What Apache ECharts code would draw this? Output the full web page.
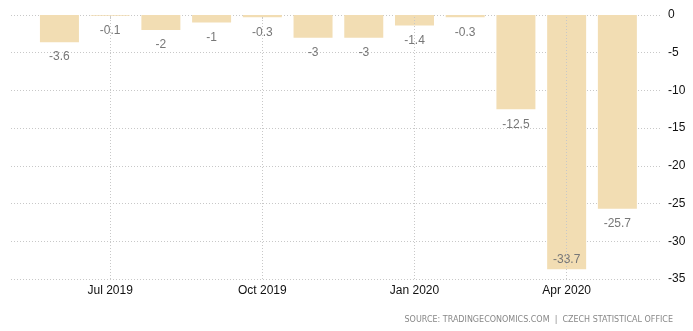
<!DOCTYPE html>
<html><head><meta charset="utf-8">
<script src="https://cdn.jsdelivr.net/npm/echarts@6/dist/echarts.min.js"></script>
<style>html,body{margin:0;padding:0;background:#fff}#c{width:693px;height:331px}</style>
</head><body><div id="c"></div>
<script>
const categories = ['Jun 2019','Jul 2019','Aug 2019','Sep 2019','Oct 2019','Nov 2019','Dec 2019','Jan 2020','Feb 2020','Mar 2020','Apr 2020','May 2020'];
const values = [-3.6, -0.1, -2, -1, -0.3, -3, -3, -1.4, -0.3, -12.5, -33.7, -25.7];
const xTickIdx = [1, 4, 7, 10];
const yTicks = [0, -5, -10, -15, -20, -25, -30, -35];
const source = 'SOURCE: TRADINGECONOMICS.COM  |  CZECH STATISTICAL OFFICE';

const chart = echarts.init(document.getElementById('c'), null, {renderer:'canvas'});
const data = values.map((v, i) => {
  const d = {value: [i, v]};
  if (v < -30) d.label = {position: 'insideBottom', distance: 4};
  return d;
});
chart.setOption({
  animation: false,
  grid: {left: 11, right: 31, top: 15, bottom: 52, containLabel: false},
  xAxis: {
    type: 'value', min: -0.955, max: 11.88,
    axisLine: {show: false},
    axisTick: {show: true, customValues: xTickIdx, length: 4, lineStyle: {color: '#ccc'}},
    axisLabel: {customValues: xTickIdx, formatter: v => categories[Math.round(v)], color: '#111', fontSize: 12, fontFamily: 'Arial, Liberation Sans, sans-serif', margin: 6},
    splitLine: {show: false}
  },
  yAxis: {
    type: 'value', position: 'right', min: -35, max: 0, interval: 5,
    axisLine: {show: false}, axisTick: {show: false},
    axisLabel: {color: '#111', fontSize: 12, fontFamily: 'Arial, Liberation Sans, sans-serif', margin: 6},
    splitLine: {show: true, lineStyle: {color: '#c8c8c8', type: [1, 2]}}
  },
  series: [{
    type: 'bar', data: data, barWidth: 39,
    itemStyle: {color: '#f2ddb3'},
    label: {show: true, position: 'bottom', distance: 9, color: '#777', fontSize: 12, fontFamily: 'Arial, Liberation Sans, sans-serif',
      formatter: p => String(p.value[1])},
    markLine: {
      silent: true, symbol: 'none', label: {show: false},
      lineStyle: {color: '#c8c8c8', type: [1, 2], width: 1},
      data: xTickIdx.map(i => ({xAxis: i}))
    },
    z: 3
  }],
  graphic: [{
    type: 'text', right: 20, top: 316,
    style: {text: source, fill: '#888', font: '8px DejaVu Sans, Verdana, sans-serif'}
  }]
});
</script></body></html>
